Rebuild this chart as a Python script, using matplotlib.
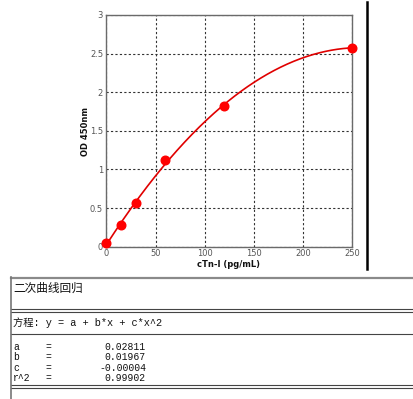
import numpy as np
import matplotlib
matplotlib.use("Agg")
import matplotlib.pyplot as plt
from matplotlib.lines import Line2D

# Data
conc = [0, 15, 30, 60, 120, 250]
od = [0.044, 0.285, 0.57, 1.123, 1.82, 2.578]
x_ticks = [0, 50, 100, 150, 200, 250]
x_tick_labels = ["0", "50", "100", "150", "200", "250"]
y_ticks = [0, 0.5, 1, 1.5, 2, 2.5, 3]
y_tick_labels = ["0", "0.5", "1", "1.5", "2", "2.5", "3"]
x_label = "cTn-I (pg/mL)"
y_label = "OD 450nm"
table_title = "二次曲线回归"
equation = "方程: y = a + b*x + c*x^2"
param_names = ["a", "b", "c", "r^2"]
param_values = ["0.02811", "0.01967", "-0.00004", "0.99902"]

W, H = 414, 399
fig = plt.figure(figsize=(W / 100, H / 100), dpi=100)
fig.patch.set_facecolor("white")

def fx(x):
    return x / W

def fy(y):
    return 1 - y / H

ax = fig.add_axes([fx(106.5), fy(246.7), fx(352) - fx(106.5), fy(15) - fy(246.7)])
ax.set_xlim(0, 250)
ax.set_ylim(0, 3)

coef = np.polyfit(conc, od, 2)
xs = np.linspace(0, 250, 300)
ax.plot(xs, np.polyval(coef, xs), color="#e00000", lw=1.2, zorder=3)
ax.plot(conc, od, "o", color="#ff0000", markersize=6.2, zorder=4, clip_on=False)

ax.set_xticks(x_ticks)
ax.set_xticklabels(x_tick_labels)
ax.set_yticks(y_ticks)
ax.set_yticklabels(y_tick_labels)
ax.tick_params(axis="y", length=0, labelsize=6, labelcolor="#555555", pad=2.5)
ax.tick_params(axis="x", length=0, labelsize=6, labelcolor="#555555", pad=1.5)
for s in ax.spines.values():
    s.set_color("#6a6a6a")
    s.set_linewidth(1.0)
ax.grid(True, color="#333333", linestyle=(0, (2, 2)), linewidth=0.8)
ax.set_axisbelow(True)

fig.text(fx(86), fy(131), y_label, rotation=90, ha="center", va="center",
         fontsize=6, fontweight="bold", color="#111111")
fig.text(fx(229), fy(264.5), x_label, ha="center", va="center",
         fontsize=6, fontweight="bold", color="#111111")

# vertical black bar
fig.add_artist(Line2D([fx(367.5), fx(367.5)], [fy(2), fy(269)], color="black", lw=1.8,
                      transform=fig.transFigure))

# table lines
def hline(y, x0=11, x1=414, color="#444444", lw=0.8):
    fig.add_artist(Line2D([fx(x0), fx(x1)], [fy(y), fy(y)], color=color, lw=lw,
                          transform=fig.transFigure))

hline(277.5, color="#8a8a8a", lw=1.6)
hline(309)
hline(311.5)
hline(333.5)
hline(385)
hline(388)
fig.add_artist(Line2D([fx(11.5), fx(11.5)], [fy(277), fy(399)], color="#777777", lw=1.2,
                      transform=fig.transFigure))

fam = ["Liberation Mono", "Noto Sans CJK SC"]
fig.text(fx(13), fy(288), table_title, ha="left", va="center", fontsize=8.4,
         family=["Noto Sans CJK SC"], color="#111111")
fig.text(fx(13), fy(322.5), equation, ha="left", va="center", fontsize=7.4,
         family=fam, color="#111111")
row_y = [347, 357.3, 367.7, 378]
for name, val, yy in zip(param_names, param_values, row_y):
    fig.text(fx(13), fy(yy), name, ha="left", va="center", fontsize=7, family=fam, color="#111111")
    fig.text(fx(45), fy(yy), "=", ha="left", va="center", fontsize=7, family=fam, color="#111111")
    fig.text(fx(146), fy(yy), val, ha="right", va="center", fontsize=7, family=fam, color="#111111")

fig.savefig("out.png", dpi=100)
